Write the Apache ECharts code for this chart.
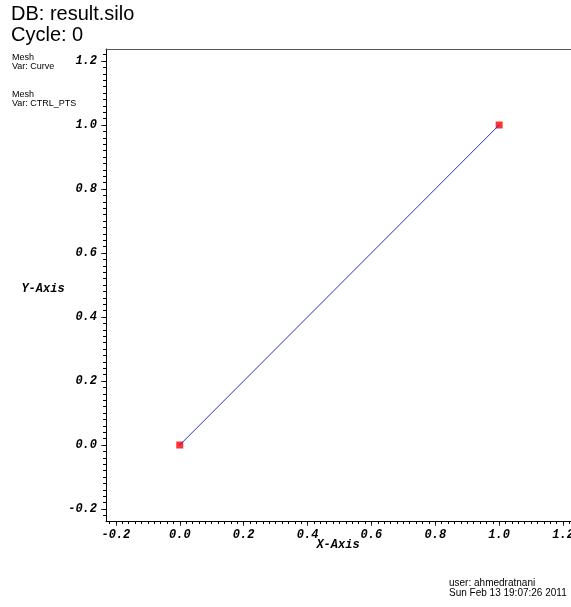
<!DOCTYPE html>
<html>
<head>
<meta charset="utf-8">
<script src="https://cdn.jsdelivr.net/npm/echarts@6/dist/echarts.min.js"></script>
<style>
  html, body { margin: 0; padding: 0; background: #fff; }
  #chart { width: 571px; height: 607px; }
</style>
</head>
<body>
<div id="chart"></div>
<script>
// data
var curveX = [0.0, 1.0];
var curveY = [0.0, 1.0];
var ctrlX = [0.0, 1.0];
var ctrlY = [0.0, 1.0];

// tick labels (major) on both axes
var xTicks = [-0.2, 0.0, 0.2, 0.4, 0.6, 0.8, 1.0, 1.2];
var yTicks = [-0.2, 0.0, 0.2, 0.4, 0.6, 0.8, 1.0, 1.2];

var headerLines = ['DB: result.silo', 'Cycle: 0'];
var legendLines = ['Mesh', 'Var: Curve', '', '', 'Mesh', 'Var: CTRL_PTS'];
var footerLines = ['user: ahmedratnani', 'Sun Feb 13 19:07:26 2011'];

// minor ticks: 10 steps between majors
function minorTicks(majors, lo, hi) {
  var out = [];
  var step = (majors[1] - majors[0]) / 10;
  var start = majors[0] - 10 * step;
  for (var i = 0; i < 200; i++) {
    var v = Math.round((start + i * step) * 1000) / 1000;
    if (v >= lo && v <= hi) out.push(v);
  }
  return out;
}

// plot box runs off the right edge of the picture
var xMin = -0.231, xMax = 1.25;
var yMin = -0.2375, yMax = 1.2375;

var monoFont = {
  fontFamily: 'Liberation Mono',
  fontWeight: 'bold',
  fontStyle: 'italic',
  fontSize: 12,
  color: '#000'
};

function pairs(xs, ys) {
  return xs.map(function (x, i) { return [x, ys[i]]; });
}

var chart = echarts.init(document.getElementById('chart'));

var graphic = [];
headerLines.forEach(function (t, i) {
  graphic.push({ type: 'text', left: 11, top: 4 + i * 21,
    style: { text: t, font: '20px "Liberation Sans"', fill: '#000' } });
});
legendLines.forEach(function (t, i) {
  if (!t) return;
  graphic.push({ type: 'text', left: 12, top: 53 + i * 9.3,
    style: { text: t, font: '9px "Liberation Sans"', fill: '#000' } });
});
footerLines.forEach(function (t, i) {
  graphic.push({ type: 'text', left: 449, top: 578 + i * 10,
    style: { text: t, font: '10px "Liberation Sans"', fill: '#000' } });
});
graphic.push({ type: 'text', x: 338, y: 545,
  style: { text: 'X-Axis', font: 'italic bold 12px "Liberation Mono"', fill: '#000',
    align: 'center', verticalAlign: 'middle' } });
graphic.push({ type: 'text', x: 43, y: 289,
  style: { text: 'Y-Axis', font: 'italic bold 12px "Liberation Mono"', fill: '#000',
    align: 'center', verticalAlign: 'middle' } });

var option = {
  animation: false,
  backgroundColor: '#fff',
  grid: {
    left: 106, top: 49, width: 473, height: 472,
    outerBoundsMode: 'none',
    containLabel: false,
    show: false
  },
  graphic: graphic,
  xAxis: [
    {
      type: 'value', min: xMin, max: xMax, position: 'bottom',
      axisLine: { show: true, onZero: false, lineStyle: { color: '#000' } },
      axisTick: { show: true, length: 5, customValues: xTicks, lineStyle: { color: '#444' } },
      axisLabel: Object.assign({ customValues: xTicks, margin: 8,
        formatter: function (v) { return v.toFixed(1); } }, monoFont),
      splitLine: { show: false }
    },
    {
      type: 'value', min: xMin, max: xMax, position: 'bottom',
      axisLine: { show: false, onZero: false },
      axisTick: { show: true, length: 3, customValues: minorTicks(xTicks, xMin, xMax), lineStyle: { color: '#000' } },
      axisLabel: { show: false },
      splitLine: { show: false }
    },
    {
      // top frame line of the plot box
      type: 'value', min: xMin, max: xMax, position: 'top',
      axisLine: { show: true, onZero: false, lineStyle: { color: '#555' } },
      axisTick: { show: false },
      axisLabel: { show: false },
      splitLine: { show: false }
    }
  ],
  yAxis: [
    {
      type: 'value', min: yMin, max: yMax, position: 'left',
      axisLine: { show: true, onZero: false, lineStyle: { color: '#000' } },
      axisTick: { show: true, length: 5, customValues: yTicks, lineStyle: { color: '#444' } },
      axisLabel: Object.assign({ customValues: yTicks, margin: 9,
        formatter: function (v) { return v.toFixed(1); } }, monoFont),
      splitLine: { show: false }
    },
    {
      type: 'value', min: yMin, max: yMax, position: 'left',
      axisLine: { show: false, onZero: false },
      axisTick: { show: true, length: 3, customValues: minorTicks(yTicks, yMin, yMax), lineStyle: { color: '#000' } },
      axisLabel: { show: false },
      splitLine: { show: false }
    }
  ],
  series: [
    {
      name: 'Curve',
      type: 'line',
      data: pairs(curveX, curveY),
      showSymbol: false,
      symbol: 'none',
      lineStyle: { color: '#3030b4', width: 1 }
    },
    {
      name: 'CTRL_PTS',
      type: 'scatter',
      data: pairs(ctrlX, ctrlY),
      symbol: 'rect',
      symbolSize: 7,
      itemStyle: { color: '#ff0000' }
    }
  ]
};
chart.setOption(option);
</script>
</body>
</html>
